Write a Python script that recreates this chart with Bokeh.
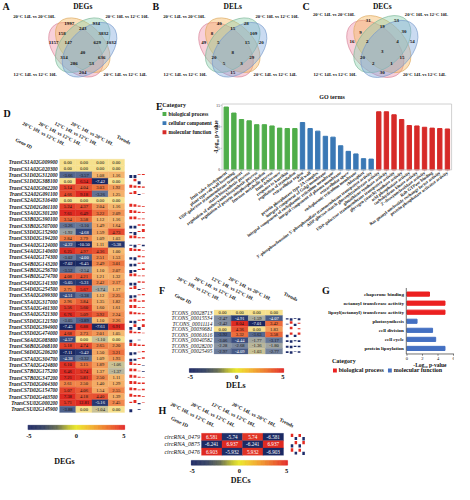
import math
import numpy as np
from bokeh.plotting import figure
from bokeh.models import Range1d, ColumnDataSource
from bokeh.layouts import row, column
from bokeh.embed import file_html
from bokeh.resources import INLINE
from bokeh.core.properties import value
from bokeh.transform import linear_cmap

SERIF = "Liberation Serif"

# ------------------------------------------------------------------ data
VENN_SETS = ["12°C 14L vs 12°C 10L", "20°C 14L vs 20°C10L",
             "20°C 10L vs 12°C 10L", "20°C 14L vs 12°C 14L"]   # pink, orange, green, blue
DEG_COUNTS = [1997, 934, 243, 158, 3832, 1157, 147, 629, 1032, 40, 314, 636, 286, 53, 204]
DEL_COUNTS = [40, 28, 15, 8, 109, 49, 5, 15, 20, 8, 20, 29, 5, 3, 15]
DEC_COUNTS = [31, 53, 19, 9, 30, 16, 2, 4, 54, 3, 20, 15, 2, 1, 30]

COMPARISONS = ["20°C 10L vs 12°C 10L", "20°C 14L vs 12°C 14L",
               "12°C 14L vs 12°C 10L", "20°C 14L vs 20°C 10L"]

D_GENES = ["TraesCS1A02G009900", "TraesCS1A02G020300", "TraesCS1D02G312000", "TraesCS1D02G388100",
           "TraesCS2A02G062200", "TraesCS2A02G091100", "TraesCS2A02G316400", "TraesCS2D02G061100",
           "TraesCS3A02G301200", "TraesCS3B02G390100", "TraesCS3B02G507000", "TraesCS3D02G152900",
           "TraesCS3D02G194200", "TraesCS4A02G124000", "TraesCS4A02G140600", "TraesCS4A02G174300",
           "TraesCS4B02G143200", "TraesCS4B02G256700", "TraesCS4B02G274700", "TraesCS4D02G141300",
           "TraesCS4D02G254500", "TraesCS5A02G099300", "TraesCS5A02G317000", "TraesCS5A02G461300",
           "TraesCS5A02G521300", "TraesCS5D02G121500", "TraesCS5D02G394900", "TraesCS5D02G474000",
           "TraesCS6A02G083800", "TraesCS6B02G068100", "TraesCS6D02G206200", "TraesCS7A02G304700",
           "TraesCS7A02G424800", "TraesCS7B02G175200", "TraesCS7B02G347200", "TraesCS7D02G064300",
           "TraesCS7D02G154700", "TraesCS7D02G463500", "TraesCSU02G000200", "TraesCSU02G145900"]
D_20C10L_VS_12C10L = [0.00, 0.00, -3.66, 0.00, 5.14, 4.66, 0.00, 5.24, 7.61, 3.54,
                      -3.26, -1.92, 2.84, -4.22, 6.25, -3.02, -7.02, -3.52, 4.08, -5.05,
                      2.75, -4.51, 2.96, 5.56, 6.76, -3.05, -7.45, 4.68, -4.57, 5.18,
                      -7.11, -4.38, 6.10, 6.46, 7.21, 2.61, 5.07, 7.38, 5.71, -3.88]
D_20C14L_VS_12C14L = [0.00, 0.00, -3.57, 6.54, 4.04, 9.18, 0.00, 4.37, 6.49, 3.58,
                      -3.10, -4.68, 2.79, -10.50, 4.97, -4.00, -6.45, -2.54, 4.21, -5.31,
                      5.67, -3.38, 3.84, 5.60, 5.09, -3.89, 6.88, 2.73, 0.00, 4.74,
                      -5.42, -3.32, 3.15, 5.74, 5.81, 2.50, 4.06, 4.18, 12.81, 0.00]
D_12C14L_VS_12C10L = [0.00, 0.00, 1.08, -7.42, 3.03, -3.26, 0.00, 2.04, 3.22, 1.12,
                      1.49, 1.59, 1.09, 1.11, 4.36, 2.51, 2.49, 1.10, 1.21, 2.42,
                      -1.74, 1.12, 1.35, 1.60, 3.92, 1.10, -7.61, 2.01, -1.10, 2.65,
                      1.50, 1.09, 1.89, 1.37, 2.50, 1.40, 1.54, 4.40, -5.16, -1.04]
D_20C14L_VS_20C10L = [0.00, 0.00, 1.16, 0.00, 1.92, 1.25, 0.00, 1.16, 2.09, 1.16,
                      1.64, 4.73, 1.03, -5.38, 1.00, 1.53, 3.01, 2.07, 1.32, 2.17,
                      1.17, 2.25, 1.82, 1.61, 2.24, 2.26, 6.91, 1.05, 0.00, 2.20,
                      3.21, 1.93, -1.06, -1.37, 1.11, 1.29, 2.55, 1.39, 2.45, 0.00]

F_GENES = ["TCONS_00028713", "TCONS_00015534", "TCONS_00011114", "TCONS_00039681",
           "TCONS_00061616", "TCONS_00040582", "TCONS_00028200", "TCONS_00025495"]
F_20C10L_VS_12C10L = [0.00, -2.47, -2.42, 0.00, -3.92, -3.06, -2.28, -2.97]
F_20C14L_VS_12C14L = [0.00, -4.91, 8.04, 4.36, 3.32, -4.44, -2.68, -4.09]
F_12C14L_VS_12C10L = [0.00, -1.59, -7.01, 0.00, -3.63, -1.77, -1.36, -1.03]
F_20C14L_VS_20C10L = [0.00, -4.07, 3.42, 1.83, 3.58, -3.17, -1.80, -2.77]

H_GENES = ["circRNA_0479", "circRNA_0875", "circRNA_0476"]
H_20C10L_VS_12C10L = [6.581, -6.241, 6.903]
H_20C14L_VS_12C14L = [-5.74, 6.937, -5.932]
H_12C14L_VS_12C10L = [5.74, -6.241, 5.932]
H_20C14L_VS_20C10L = [-6.581, 6.937, -6.903]

CBAR_TICKS = [-5, 0, 5]

GO_TERMS = ["fruit valve development", "plant-type cell wall loosening",
            "UDP-galactose transmembrane transport", "starch biosynthetic process",
            "regulation of anthocyanin biosynthetic process", "regulation of protein autophosphorylation",
            "fructose metabolic process", "fruit dehiscence", "response to karrikin",
            "regulation of translation",
            "extracellular region", "cell wall", "protein phosphatase type 2A complex",
            "integral component of Golgi membrane",
            "integral component of endoplasmic reticulum membrane",
            "integral component of plasma membrane", "extracellular space",
            "endoplasmic reticulum membrane", "chloroplast",
            "3'-phosphoadenosine 5'-phosphosulfate transmembrane transporter activity",
            "ADP-glucose-starch glucosyltransferase activity", "glutathione synthase activity",
            "UDP-galactose transmembrane transporter activity", "glycogen (starch) synthase activity",
            "acid phosphatase activity", "carbohydrate kinase activity",
            "2'-deoxynucleotidase activity", "Rab GTPase binding",
            "Ras guanyl-nucleotide exchange factor activity",
            "protein phosphatase activator activity"]
GO_VALUES = [14.6, 13.2, 11.7, 11.4, 10.5, 10.5, 10.2, 9.7, 9.6, 9.6,
             11.0, 9.6, 9.0, 7.8, 7.6, 5.6, 4.3, 3.7, 2.6, 2.5,
             13.5, 13.5, 12.8, 11.7, 10.3, 10.2, 9.9, 9.7, 9.6, 9.5]
GO_CATS = (["biological process"] * 10 + ["cellular component"] * 10
           + ["molecular function"] * 10)
E_CATEGORIES = ["biological process", "cellular component", "molecular function"]
E_YTICKS = [0, 5, 10, 15]

G_TERMS = ["chaperone binding", "octanoyl transferase activity",
           "lipoyl(octanoyl) transferase activity", "photosynthesis",
           "cell division", "cell cycle", "protein lipoylation"]
G_VALUES = [2.9, 4.9, 4.9, 1.3, 3.3, 3.7, 4.9]
G_CATS = ["biological process"] * 3 + ["molecular function"] * 4
G_CATEGORIES = ["biological process", "molecular function"]
G_XTICKS = [0, 2, 4, 6]

# ------------------------------------------------------------------ styles
VENN_FILL = ["#ef8fa8", "#f6b65a", "#8ccfae", "#80a9de"]
VENN_LINE = ["#d9879b", "#ddab62", "#7fb99b", "#7a9ccc"]
E_COLORS = {"biological process": "#4fad4a", "cellular component": "#3a78b5",
            "molecular function": "#d62a28"}
G_COLORS = {"biological process": "#ec2020", "molecular function": "#4470c2"}
POS_COL, NEG_COL = "#e32a22", "#1c2b6a"
AXIS_GREY = "#9a9a9a"


def make_palette(anchors, lo, hi, n=256):
    vals = np.linspace(lo, hi, n)
    xs = [a[0] for a in anchors]
    ch = [np.interp(vals, xs, [a[1][i] for a in anchors]) for i in range(3)]
    return ["#%02x%02x%02x" % (int(r), int(g), int(b)) for r, g, b in zip(*ch)]


CELL_LO, CELL_HI = -6.5, 6.5
CELL_PALETTE = make_palette([
    (-6.5, (26, 40, 98)), (-5, (40, 58, 115)), (-4, (75, 95, 138)), (-3, (108, 124, 155)),
    (-2, (150, 158, 165)), (-1, (205, 196, 150)), (0, (246, 226, 142)), (1, (246, 186, 112)),
    (2, (243, 152, 88)), (3, (239, 120, 65)), (4.5, (231, 78, 48)), (6.5, (222, 42, 34))],
    CELL_LO, CELL_HI)
CB_LO, CB_HI = -5.1, 5.1
CB_PALETTE = make_palette([
    (-5.1, (22, 32, 95)), (-3.5, (42, 56, 92)), (-2, (95, 102, 72)), (-0.8, (192, 190, 40)),
    (0, (235, 232, 30)), (1.2, (242, 190, 35)), (2.5, (240, 140, 35)), (4, (234, 80, 32)),
    (5.1, (226, 32, 30))], CB_LO, CB_HI)

HDR_ANGLE = -0.47


def bare_figure(w, h, xr, yr):
    p = figure(width=w, height=h, x_range=xr, y_range=yr, x_axis_location=None,
               y_axis_location=None, min_border=0, title=None,
               output_backend="svg", toolbar_location=None)
    p.grid.visible = False
    p.outline_line_color = None
    return p


def txt(p, x, y, text, size, style="bold", align="left", baseline="middle", angle=0.0,
        color="#111111"):
    p.text(x=x, y=y, text=text, text_font=value(SERIF), text_font_style=style,
           text_font_size=size, text_align=align, text_baseline=baseline, angle=angle,
           text_color=color)


# ------------------------------------------------------------------ Venn panels
REGION_OFF = [(-14, 5.3), (14, 5.3), (0, 11), (-21.5, 16.3), (21.5, 16), (-30, 25.3),
              (-15, 25.3), (15, 25.3), (29.5, 25.3), (0, 35.3), (-19.5, 41.3), (19.5, 41.3),
              (-9, 47), (9, 47.3), (0, 56.3)]
SETLABEL_OFF = [(-49, 58), (-50, -1.3), (46, -1.3), (44, 58)]   # pink, orange, green, blue


def venn_panel(w, h, box, cx, top, s, counts, title, letter):
    x0, x1, y0, y1 = box
    p = bare_figure(w, h, Range1d(x0, x1), Range1d(-y1, -y0))
    ex = [cx - 7 * s, cx, cx, cx + 7 * s]
    ey = [-(top + 32.9 * s), -(top + 28.2 * s), -(top + 28.2 * s), -(top + 32.9 * s)]
    ang = [-math.pi / 4, -math.pi / 4, math.pi / 4, math.pi / 4]
    p.ellipse(x=ex, y=ey, width=67.7 * s, height=42.3 * s, angle=ang,
              fill_color=VENN_FILL, fill_alpha=0.42, line_color=VENN_LINE, line_width=0.7)
    txt(p, [cx + dx * s for dx, dy in REGION_OFF], [-(top + dy * s) for dx, dy in REGION_OFF],
        [str(c) for c in counts], "5px", align="center")
    txt(p, [cx + dx for dx, dy in SETLABEL_OFF], [-(top + dy * s) for dx, dy in SETLABEL_OFF],
        VENN_SETS, "4.6px", align="center")
    txt(p, [cx], [-6.7], [title], "7.5px", align="center")
    txt(p, [x0 + 2], [-6], [letter], "10px")
    return p


# ------------------------------------------------------------------ heatmap panels
def heatmap_panel(w, h, box, geo, genes, cols, fmt, id_style, id_font, val_font,
                  text_color_fn, cbar_title, letter, hdr_font):
    x0, x1, y0, y1 = box
    X0, CW, Y0, RH = geo["cells"]

    def dx(rx):
        return (rx - X0) / CW - 0.5

    def dy(ry):
        return -((ry - Y0) / RH - 0.5)

    p = bare_figure(w, h, Range1d(dx(x0), dx(x1)), Range1d(dy(y1), dy(y0)))

    xs, ys, vs, labels, tcs = [], [], [], [], []
    for r in range(len(genes)):
        for c, col in enumerate(cols):
            v = col[r]
            xs.append(c); ys.append(-r); vs.append(v)
            labels.append(fmt(v)); tcs.append(text_color_fn(v))
    src = ColumnDataSource(dict(x=xs, y=ys, v=vs, label=labels, tc=tcs))
    cmap = linear_cmap("v", CELL_PALETTE, CELL_LO, CELL_HI)
    p.rect(x="x", y="y", width=1, height=1, source=src, fill_color=cmap,
           line_color=cmap, line_width=0.3)
    p.text(x="x", y="y", text="label", text_color="tc", source=src, text_font=value(SERIF),
           text_font_size=val_font, text_align="center", text_baseline="middle")

    txt(p, [dx(geo["id_right"])] * len(genes), [-r for r in range(len(genes))], genes,
        id_font, style=id_style, align="right")
    txt(p, [c + geo["hdr_dx"] / CW for c in range(len(cols))], [dy(geo["hdr_y"])] * len(cols),
        COMPARISONS, hdr_font, align="right", angle=HDR_ANGLE)
    txt(p, [dx(geo["gene_lbl"][0]), dx(geo["trend_lbl"][0])],
        [dy(geo["gene_lbl"][1]), dy(geo["trend_lbl"][1])],
        ["Gene ID", "Trends"], hdr_font, align="center", angle=HDR_ANGLE)

    # trend mini-bars
    TX0, TP, TW = geo["trend"]
    tx, ty, th, tc = [], [], [], []
    for r in range(len(genes)):
        vals = [col[r] for col in cols]
        m = max(abs(v) for v in vals)
        for k, v in enumerate(vals):
            if v == 0:
                continue
            hh = abs(v) / m * 0.46
            tx.append(dx(TX0 + k * TP))
            ty.append(-r + (hh / 2 if v > 0 else -hh / 2))
            th.append(hh)
            tc.append(POS_COL if v > 0 else NEG_COL)
    p.rect(x=tx, y=ty, width=TW / CW, height=th, fill_color=tc, line_color=None)

    # colour bar
    bx0, bx1, by0, by1 = geo["cbar"]

    def vx(v):
        return dx(bx0 + (v - CB_LO) / (CB_HI - CB_LO) * (bx1 - bx0))

    edges = np.linspace(CB_LO, CB_HI, 121)
    mids = (edges[:-1] + edges[1:]) / 2
    csrc = ColumnDataSource(dict(l=[vx(e) for e in edges[:-1]], r=[vx(e) for e in edges[1:]], m=mids))
    cbm = linear_cmap("m", CB_PALETTE, CB_LO, CB_HI)
    p.quad(left="l", right="r", bottom=dy(by1), top=dy(by0), source=csrc,
           fill_color=cbm, line_color=cbm, line_width=0.3)
    txt(p, [vx(t) for t in CBAR_TICKS], [dy(geo["tick_y"])] * len(CBAR_TICKS),
        [str(t) for t in CBAR_TICKS], "6.5px", align="center")
    txt(p, [dx(geo["cb_title"][0])], [dy(geo["cb_title"][1])], [cbar_title], "8px", align="center")
    txt(p, [dx(geo["letter"][0])], [dy(geo["letter"][1])], [letter], "10px")
    return p


D_GEO = dict(cells=(61.0, 16.75, 164.0, 6.54), id_right=59, hdr_dx=-3, hdr_y=149,
             gene_lbl=(24, 148), trend_lbl=(127, 144), trend=(134.5, 4.3, 3.0),
             cbar=(28.3, 128.3, 438.7, 443.3), tick_y=450, cb_title=(66, 476), letter=(3, 117))
F_GEO = dict(cells=(220.7, 17.75, 319.7, 5.65), id_right=219, hdr_dx=-3, hdr_y=309,
             gene_lbl=(188.3, 308.3), trend_lbl=(300, 306), trend=(296.5, 4.1, 2.8),
             cbar=(195, 293, 380, 384), tick_y=389, cb_title=(243.3, 397.3), letter=(163.5, 300))
H_GEO = dict(cells=(207.7, 21.25, 447.0, 7.6), id_right=206, hdr_dx=3, hdr_y=439,
             gene_lbl=(185, 435), trend_lbl=(296, 435.7), trend=(301.5, 4.0, 2.6),
             cbar=(197, 297, 475, 480), tick_y=486, cb_title=(248.3, 495.5), letter=(163, 423))

fmt2 = lambda v: f"{v:.2f}"
fmtg = lambda v: f"{v:g}"
dark_white = lambda v: "white" if v <= -4 else "#111111"
all_white = lambda v: "white"

# ------------------------------------------------------------------ build panels
pA = venn_panel(150, 89, (0, 155, 0, 92), 85, 18, 1.0, DEG_COUNTS, "DEGs", "A")
pB = venn_panel(150, 89, (155, 310, 0, 92), 240, 18, 1.0, DEL_COUNTS, "DELs", "B")
pC = venn_panel(154, 89, (310, 470, 0, 92), 395, 15.5, 1.05, DEC_COUNTS, "DECs", "C")

pD = heatmap_panel(155, 395, (0, 160, 92, 500), D_GEO, D_GENES,
                   [D_20C10L_VS_12C10L, D_20C14L_VS_12C14L, D_12C14L_VS_12C10L, D_20C14L_VS_20C10L],
                   fmt2, "bold italic", "5.2px", "4.6px", dark_white, "DEGs", "D", "5px")
pF = heatmap_panel(164, 131, (160, 330, 280, 415), F_GEO, F_GENES,
                   [F_20C10L_VS_12C10L, F_20C14L_VS_12C14L, F_12C14L_VS_12C10L, F_20C14L_VS_20C10L],
                   fmt2, "italic", "5.4px", "4.6px", dark_white, "DELs", "F", "5px")
pH = heatmap_panel(164, 82, (160, 330, 415, 500), H_GEO, H_GENES,
                   [H_20C10L_VS_12C10L, H_20C14L_VS_12C14L, H_12C14L_VS_12C10L, H_20C14L_VS_20C10L],
                   fmtg, "italic", "6px", "5.2px", all_white, "DECs", "H", "5.2px")

# ---- E : GO terms bar chart (x: term index, y: -log10 p)
E_PLOT_REF = (229, 467, 107, 175)      # plot box in reference pixels
E_YMAX, E_PAD = 15.3, 0.05
nE = len(GO_TERMS)
E_PX = (E_PLOT_REF[1] - E_PLOT_REF[0]) / (nE + 2 * E_PAD)
E_PY = (E_PLOT_REF[3] - E_PLOT_REF[2]) / E_YMAX


def exd(rx):
    return (rx - E_PLOT_REF[0]) / E_PX - 0.5 - E_PAD


def eyd(ry):
    return (E_PLOT_REF[3] - ry) / E_PY


pE = bare_figure(299, 182, Range1d(exd(160), exd(470)), Range1d(eyd(280), eyd(92)))
eidx = list(range(nE))
esrc = ColumnDataSource(dict(x=eidx, val=GO_VALUES, color=[E_COLORS[c] for c in GO_CATS]))
pE.vbar(x="x", top="val", bottom=0, width=0.57, color="color", source=esrc)
xl, xr = -0.5 - E_PAD, nE - 0.5 + E_PAD
pE.quad(left=[xl], right=[xr], bottom=[0], top=[E_YMAX], fill_color=None,
        line_color="#c4c4c4", line_width=0.8)
pE.segment(x0=eidx, x1=eidx, y0=0, y1=-1.6 / E_PY, line_color=AXIS_GREY, line_width=0.5)
txt(pE, eidx, [eyd(177.5)] * nE, GO_TERMS, "4.4px", align="right", angle=0.64)
pE.segment(x0=xl, x1=xl - 1.6 / E_PX, y0=E_YTICKS, y1=E_YTICKS, line_color=AXIS_GREY, line_width=0.5)
txt(pE, [exd(226.8)] * len(E_YTICKS), E_YTICKS, [str(t) for t in E_YTICKS], "3.6px",
    style="normal", align="right")
txt(pE, [exd(222.5)], [E_YMAX / 2], ["-Log₁₀ p-value"], "5.5px", align="center",
    angle=math.pi / 2)
txt(pE, [exd(343)], [eyd(100)], ["GO terms"], "6px", align="center")
txt(pE, [exd(160.5)], [eyd(110)], ["E"], "10px")
# legend
txt(pE, [exd(167)], [eyd(108.3)], ["Category"], "6px")
leg_y = [eyd(117.3 + 9.4 * k) for k in range(len(E_CATEGORIES))]
pE.rect(x=[exd(169.3)] * len(E_CATEGORIES), y=leg_y, width=4 / E_PX, height=4 / E_PY,
        fill_color=[E_COLORS[c] for c in E_CATEGORIES], line_color=None)
txt(pE, [exd(173.5)] * len(E_CATEGORIES), leg_y, E_CATEGORIES, "5.3px")

# ---- G : horizontal bar chart (x: -log10 p, y: -term index)
G_X0, G_XS = 420.7, 8.05           # reference x of value 0, ref px per unit
G_Y0, G_YS = 303.3, 9.33           # reference y of first term, ref px per term
G_XMAX = 6.05
nG = len(G_TERMS)


def gxd(rx):
    return (rx - G_X0) / G_XS


def gyd(ry):
    return -(ry - G_Y0) / G_YS


pG = bare_figure(135, 131, Range1d(gxd(330), gxd(470)), Range1d(gyd(415), gyd(280)))
gidx = [-k for k in range(nG)]
gsrc = ColumnDataSource(dict(y=gidx, val=G_VALUES, color=[G_COLORS[c] for c in G_CATS]))
pG.hbar(y="y", left=0, right="val", height=0.46, color="color", source=gsrc)
g_top, g_bot = gyd(297), gyd(365)
ax0 = gxd(420)
pG.segment(x0=[ax0, ax0], x1=[ax0, G_XMAX], y0=[g_top, g_bot], y1=[g_bot, g_bot],
           line_color="#333333", line_width=0.7)
pG.segment(x0=G_XTICKS, x1=G_XTICKS, y0=g_bot, y1=g_bot - 1.8 / G_YS,
           line_color="#333333", line_width=0.6)
txt(pG, G_XTICKS, [gyd(369.5)] * len(G_XTICKS), [str(t) for t in G_XTICKS], "4.5px",
    style="normal", align="center")
txt(pG, [gxd(444.5)], [gyd(376)], ["-Log₁₀ p-value"], "5.5px", align="center")
txt(pG, [gxd(417.5)] * nG, gidx, G_TERMS, "5px", align="right")
txt(pG, [gxd(332.5)], [gyd(300)], ["G"], "10px")
# legend
txt(pG, [gxd(343)], [gyd(372)], ["Category"], "6px")
gl_x = [gxd(346), gxd(403)]
pG.rect(x=gl_x, y=[gyd(382)] * 2, width=4 / G_XS, height=4 / G_YS,
        fill_color=[G_COLORS[c] for c in G_CATEGORIES], line_color=None)
txt(pG, [x + 4 / G_XS for x in gl_x], [gyd(382)] * 2, G_CATEGORIES, "6px")

layout = column(row(pA, pB, pC), row(pD, column(pE, row(pF, pG), pH)))

open("out.html", "w").write(file_html(layout, INLINE))
